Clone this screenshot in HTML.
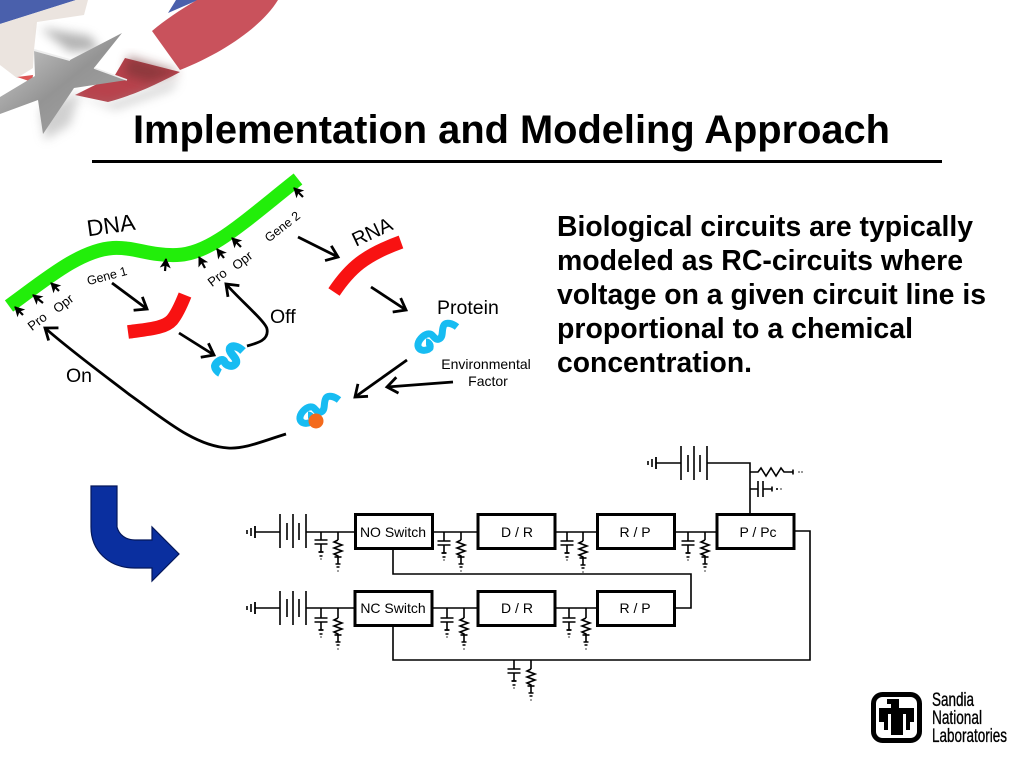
<!DOCTYPE html>
<html><head><meta charset="utf-8"><title>Implementation and Modeling Approach</title>
<style>html,body{margin:0;padding:0;background:#fff}svg{display:block}text{font-family:"Liberation Sans",sans-serif;fill:#000}</style></head>
<body>
<svg width="1024" height="768" viewBox="0 0 1024 768" xmlns="http://www.w3.org/2000/svg">
<defs>
<marker id="a" markerUnits="userSpaceOnUse" markerWidth="30" markerHeight="30" refX="15" refY="15" orient="auto" viewBox="0 0 30 30">
<path d="M4 8L15 15L5 24" fill="none" stroke="#000" stroke-width="2.8"/></marker>
<marker id="b" markerUnits="userSpaceOnUse" markerWidth="16" markerHeight="16" refX="12" refY="8" orient="auto" viewBox="0 0 16 16">
<path d="M13 8L3 2.500L5.500 8L3 13.500Z" fill="#000"/></marker>
<filter id="bl" x="-30%" y="-30%" width="160%" height="160%"><feGaussianBlur stdDeviation="5"/></filter>
<linearGradient id="gs" x1="0" y1="0" x2="1" y2="1"><stop offset="0" stop-color="#d2d2d2"/><stop offset=".5" stop-color="#949494"/><stop offset="1" stop-color="#a8a8a8"/></linearGradient>
<g id="cap" fill="none" stroke="#000" stroke-width="1.6"><path d="M-6.500 0H6.500M-6.500 4H6.500M0 4V12"/><path d="M-2.500 12H2.500" stroke-width="1.800"/><path d="M-1.500 16H1.500M-.5 19H.5"/></g>
<g id="res" fill="none" stroke="#000" stroke-width="1.6"><path d="M0 0L-4 2L4 5L-4 8L4 11L-4 14L0 16V24"/><path d="M-3.500 17H3.500"/><path d="M-2.500 24H2.500M-1.500 27H1.500M-.5 31H.5"/></g>
</defs>

<!-- header art -->
<path d="M0 0H76L0 24Z" fill="#4a60ac"/>
<path d="M0 24L76 0H88L84 15L37 22L34 50L33 68L17 78L0 65Z" fill="#ebe4df"/>
<path d="M17 77L33 75L32 82Z" fill="#d55"/>
<path d="M176 0H198L168 13Z" fill="#4a60ac"/>
<path d="M197 0H278C262 26 225 52 180 70L152 31C165 20 180 10 197 0Z" fill="#c9525c"/>
<path d="M125 58L180 72C150 88 130 96 108 102L75 95L115 75Z" fill="#b8424c"/>
<path d="M128 56L180 72L150 82L125 75Z" fill="#6d3033" opacity=".55" filter="url(#bl)"/>
<path d="M40 28L90 36L100 50L70 52Z" fill="#777" opacity=".55" filter="url(#bl)"/>
<path d="M75 95L110 103L180 78L172 90L115 110Z" fill="#999" opacity=".4" filter="url(#bl)"/>
<path d="M40 110L80 92L70 125L45 140Z" fill="#aaa" opacity=".55" filter="url(#bl)"/>
<path d="M122 33L94 68L127 80L74 88L43 134L38 100L0 114V97L35 76L34 50L70 60Z" fill="url(#gs)"/>
<path d="M34 50L70 60" stroke="#eee" stroke-width="2"/>
<path d="M94 68L127 80" stroke="#eee" stroke-width="1.500"/>

<!-- title -->
<text x="133" y="143" font-size="40" font-weight="700" textLength="757" lengthAdjust="spacingAndGlyphs">Implementation and Modeling Approach</text>
<rect x="92" y="160" width="850" height="3" fill="#000"/>

<!-- body -->
<g font-size="29" font-weight="700">
<text x="557" y="236" textLength="416" lengthAdjust="spacingAndGlyphs">Biological circuits are typically</text>
<text x="557" y="270" textLength="406" lengthAdjust="spacingAndGlyphs">modeled as RC-circuits where</text>
<text x="557" y="304" textLength="429" lengthAdjust="spacingAndGlyphs">voltage on a given circuit line is</text>
<text x="557" y="338" textLength="356" lengthAdjust="spacingAndGlyphs">proportional to a chemical</text>
<text x="557" y="372" textLength="195" lengthAdjust="spacingAndGlyphs">concentration.</text>
</g>

<!-- DNA -->
<path d="M9 306C45 280 80 250 113 248C135 247 150 256 177 255C210 254 240 225 298 179" fill="none" stroke="#22ee0a" stroke-width="14"/>
<g stroke="#000" stroke-width="2.200" fill="none">
<path d="M23 315L15 307" marker-end="url(#b)"/><path d="M43 303L33 295" marker-end="url(#b)"/>
<path d="M59 291L51 283" marker-end="url(#b)"/><path d="M165 271L166 259" marker-end="url(#b)"/>
<path d="M205 268L199 257" marker-end="url(#b)"/><path d="M224 258L217 249" marker-end="url(#b)"/>
<path d="M241 247L232 238" marker-end="url(#b)"/><path d="M303 197L294 188" marker-end="url(#b)"/>
</g>
<g font-size="13" text-anchor="middle">
<text transform="translate(40 325) rotate(-38)">Pro</text>
<text transform="translate(66 307) rotate(-38)">Opr</text>
<text transform="translate(108 280) rotate(-15)" font-size="12.500">Gene 1</text>
<text transform="translate(220 281) rotate(-38)">Pro</text>
<text transform="translate(245 264) rotate(-38)">Opr</text>
<text transform="translate(285 230) rotate(-38)" font-size="12.500">Gene 2</text>
</g>
<text transform="translate(112 233) rotate(-8)" font-size="23" text-anchor="middle">DNA</text>
<text transform="translate(375 238) rotate(-25)" font-size="20" text-anchor="middle">RNA</text>

<!-- mRNA -->
<path d="M128 332C150 329 165 328 172 320C177 314 181 305 185 295" fill="none" stroke="#f81212" stroke-width="13.500"/>
<path d="M334 292C350 268 365 255 401 242" fill="none" stroke="#f81212" stroke-width="13.500"/>

<!-- arrows -->
<g fill="none" stroke="#000" stroke-width="2.800">
<path d="M112 283L147 309" marker-end="url(#a)"/>
<path d="M179 333L214 355" marker-end="url(#a)"/>
<path d="M247 346C258 343 269 340 267 329C266 322 240 300 226 284" marker-end="url(#a)"/>
<path d="M286 434C260 442 245 449 228 448C195 446 165 420 130 395C100 372 70 350 45 328" marker-end="url(#a)"/>
<path d="M298 237L338 257" marker-end="url(#a)"/>
<path d="M371 287L406 310" marker-end="url(#a)"/>
<path d="M407 360L355 397" marker-end="url(#a)"/>
<path d="M453 382L387 387" marker-end="url(#a)"/>
</g>

<!-- proteins -->
<g fill="none" stroke="#17bcf2" stroke-linejoin="round">
<path d="M243 351C238 346 232 345 230 348C228 353 238 358 236 363C233 368 226 366 224 361C222 358 216 362 215 366C215 369 218 372 220 373" stroke-width="8"/>
<path stroke-width="7" d="M457 327C452 323 446 322 444 325C441 330 444 337 439 339C435 341 433 334 430 334C425 333 419 339 418 344C417 351 426 352 430 348C431 344 428 342 426 342"/>
<path stroke-width="7" transform="translate(-118 73)" d="M457 327C452 323 446 322 444 325C441 330 444 337 439 339C435 341 433 334 430 334C425 333 419 339 418 344C417 351 426 352 430 348C431 344 428 342 426 342"/>
</g>
<circle cx="316" cy="421" r="7.500" fill="#f46a1c"/>

<text x="270" y="323" font-size="19.500">Off</text>
<text x="66" y="382" font-size="19.500">On</text>
<text x="437" y="314" font-size="19.500">Protein</text>
<text x="486" y="369" font-size="14" text-anchor="middle">Environmental</text>
<text x="488" y="386" font-size="14" text-anchor="middle">Factor</text>

<!-- blue arrow -->
<path d="M91 486H117V527C119 535 126 540 135 540H152V527L179 554L152 581V568H135C108 568 91 550 91 527Z" fill="#0a2f9f" stroke="#04175a" stroke-width="1.200"/>

<!-- circuit wires -->
<g fill="none" stroke="#000" stroke-width="1.600">
<path d="M255 532H280M306 532H355M433 532H477M556 532H597M675 532H716"/>
<path d="M255 608H280M306 608H355M433 608H477M556 608H597"/>
<path d="M393 549V574H691V608H675"/>
<path d="M393 626V660H810V531H794"/>
<path d="M656 463H681M707 463H750V514"/>
<path d="M750 472H758L761 468L766 476L771 468L776 476L781 468L784 472H793M750 489H758M763 489H772"/>
<path d="M321 532V540M338 532V540M444 532V541M461 532V540M567 532V541M583 532V541M688 532V541M705 532V540"/>
<path d="M321 608V618M338 608V618M447 608V618M464 608V618M569 608V618M586 608V618"/>
<path d="M514 660V669M531 660V669"/>
<path d="M247 530V534M251 528V536"/>
<path d="M247 606V610M251 604V612"/>
<path d="M648 461V465M652 459V467"/>
<path d="M793 469.500V474.500M799 471.500V472.500M802 471.500V472.500M772 486.500V491.500M777 488V490M781 488.500V489.500"/>
<path d="M255 526V538M255 602V614M656 457V469" stroke-width="1.800"/>
<path d="M280 514V548M293 514V548M306 514V548M287 523V540M299 523V540"/>
<path d="M280 591V625M293 591V625M306 591V625M287 599V617M299 599V617"/>
<path d="M681 446V480M694 446V480M707 446V480M688 455V472M700 455V472"/>
<path d="M758 481V497M763 481V497"/>
</g>
<use href="#cap" x="321" y="540"/><use href="#res" x="338" y="540"/>
<use href="#cap" x="444" y="541"/><use href="#res" x="461" y="540"/>
<use href="#cap" x="567" y="541"/><use href="#res" x="583" y="541"/>
<use href="#cap" x="688" y="541"/><use href="#res" x="705" y="540"/>
<use href="#cap" x="321" y="618"/><use href="#res" x="338" y="618"/>
<use href="#cap" x="447" y="618"/><use href="#res" x="464" y="618"/>
<use href="#cap" x="569" y="618"/><use href="#res" x="586" y="618"/>
<use href="#cap" x="514" y="669"/><use href="#res" x="531" y="669"/>

<!-- boxes -->
<g fill="#fff" stroke="#000" stroke-width="3">
<rect x="355.500" y="514.500" width="77" height="34"/>
<rect x="478" y="514.500" width="77" height="34"/>
<rect x="597.500" y="514.500" width="77" height="34"/>
<rect x="717" y="514.500" width="77" height="34"/>
<rect x="355" y="591.500" width="77" height="34"/>
<rect x="478" y="591.500" width="77" height="34"/>
<rect x="597.500" y="591.500" width="77" height="34"/>
</g>
<g font-size="14" text-anchor="middle">
<text x="393" y="537">NO Switch</text>
<text x="517" y="537">D / R</text>
<text x="635" y="537">R / P</text>
<text x="758" y="537">P / Pc</text>
<text x="393" y="613">NC Switch</text>
<text x="517" y="613">D / R</text>
<text x="635" y="613">R / P</text>
</g>

<!-- logo -->
<rect x="873.500" y="694.500" width="46" height="46" rx="9" fill="#fff" stroke="#000" stroke-width="5"/>
<path d="M887 699H899V708H914V722H910V730H906V714H903V735H891V714H888V730H884V722H879V708H891V704H887Z" fill="#000"/>
<g stroke="#000" stroke-width=".35">
<text x="932" y="706" font-size="19" textLength="42" lengthAdjust="spacingAndGlyphs">Sandia</text>
<text x="932" y="724" font-size="19" textLength="50" lengthAdjust="spacingAndGlyphs">National</text>
<text x="932" y="742" font-size="19" textLength="75" lengthAdjust="spacingAndGlyphs">Laboratories</text>
</g>
</svg>
</body></html>
